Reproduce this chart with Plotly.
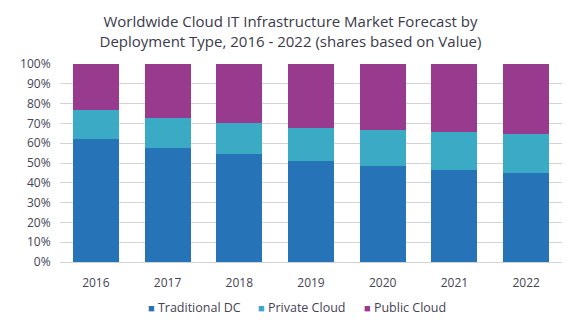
import plotly.graph_objects as go

years = ["2016", "2017", "2018", "2019", "2020", "2021", "2022"]
traditional_dc = [61.9, 57.7, 54.6, 50.9, 48.4, 46.7, 44.7]
private_cloud = [14.7, 14.8, 15.6, 16.7, 18.2, 18.9, 19.7]
public_cloud = [23.4, 27.5, 29.8, 32.4, 33.4, 34.4, 35.6]
y_ticks = [0, 10, 20, 30, 40, 50, 60, 70, 80, 90, 100]
y_tick_labels = [f"{v}%" for v in y_ticks]

series_names = ["Traditional DC", "Private Cloud", "Public Cloud"]
series_values = [traditional_dc, private_cloud, public_cloud]
series_colors = ["#2673B8", "#3AAAC5", "#983A8E"]

fig = go.Figure()
for name, vals, color in zip(series_names, series_values, series_colors):
    fig.add_trace(go.Bar(x=years, y=vals, name=name, showlegend=False,
                         marker=dict(color=color, line=dict(width=0))))

font = "Open Sans, Noto Sans, sans-serif"
L, R = 60, 19
plot_w = 581 - L - R

# compact legend row (symbol + label), like the reference
legend_left_px = [145.5, 255.5, 362]
for name, color, px in zip(series_names, series_colors, legend_left_px):
    fig.add_annotation(
        text=f"<span style='font-size:11px;color:{color}'>■</span> {name}",
        xref="paper", yref="paper", x=(px - L) / plot_w, y=-(307 - 262) / 198,
        xanchor="left", yanchor="middle", showarrow=False,
        font=dict(family=font, size=12.5, color="#444455"),
    )

fig.update_layout(
    barmode="stack",
    bargap=0.36,
    width=581,
    height=329,
    margin=dict(l=L, r=R, t=64, b=67, autoexpand=False),
    paper_bgcolor="white",
    plot_bgcolor="white",
    font=dict(family=font, color="#444455", size=12),
    title=dict(
        text="Worldwide Cloud IT Infrastructure Market Forecast by<br>Deployment Type, 2016 - 2022 (shares based on Value)",
        x=0.5, xanchor="center", yref="container", y=1 - 27 / 329, yanchor="middle",
        font=dict(family=font, size=15, color="#3a3a4a"),
    ),
    xaxis=dict(showgrid=False, showline=False, ticks="outside", ticklen=10,
               tickcolor="rgba(0,0,0,0)", tickfont=dict(size=12)),
    yaxis=dict(
        range=[0, 100], tickmode="array", tickvals=y_ticks, ticktext=y_tick_labels,
        showgrid=True, gridcolor="#d4d4d4", gridwidth=1,
        zeroline=True, zerolinecolor="#d4d4d4", zerolinewidth=1,
        ticks="outside", ticklen=6, tickcolor="rgba(0,0,0,0)", tickfont=dict(size=12),
    ),
    showlegend=False,
)

fig.write_html("out.html")
